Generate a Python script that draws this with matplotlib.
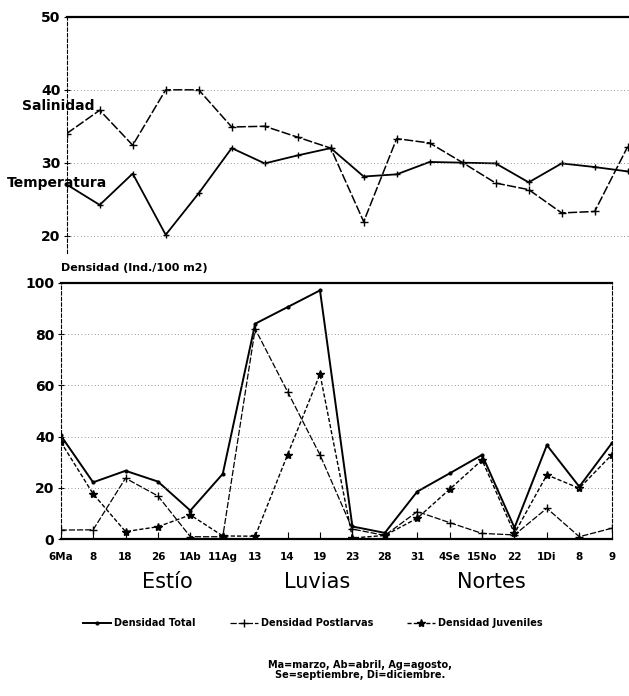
import matplotlib
matplotlib.use('Agg')
import matplotlib.pyplot as plt
from matplotlib import transforms

# fechas de muestreo (eje x)
fechas = ['6Ma', '8', '18', '26', '1Ab', '11Ag', '13', '14', '19', '23',
          '28', '31', '4Se', '15No', '22', '1Di', '8', '9']

# panel superior
salinidad = [34.0, 37.2, 32.4, 40.0, 40.0, 34.9, 35.0, 33.5, 32.0, 21.9,
             33.3, 32.7, 30.0, 27.2, 26.3, 23.1, 23.3, 32.2]
temperatura = [27.0, 24.2, 28.5, 20.1, 25.8, 32.0, 29.9, 31.0, 32.0, 28.1,
               28.4, 30.1, 30.0, 29.9, 27.3, 29.9, 29.4, 28.8]

# panel inferior, densidad (ind./100 m2)
dens_total = [40.5, 22.2, 26.7, 22.5, 11.2, 25.5, 84.0, 90.5, 97.0, 5.0,
              2.5, 18.6, 25.7, 32.9, 4.5, 36.7, 20.5, 37.4]
dens_postlarvas = [3.6, 3.7, 23.8, 16.9, 1.0, 1.0, 82.0, 57.5, 32.9, 4.0,
                   1.5, 10.8, 6.5, 2.3, 1.7, 12.1, 1.0, 4.3]
dens_juveniles = [38.0, 17.7, 3.0, 4.9, 9.5, 1.3, 1.2, 33.0, 64.4, 0.5,
                  1.5, 8.2, 19.5, 30.9, 2.3, 25.1, 19.9, 32.9]

temporadas = ['Estío', 'Luvias', 'Nortes']
temporadas_x = [3.3, 7.9, 13.3]

W, H = 629, 696
fig = plt.figure(figsize=(W / 100, H / 100), dpi=100)


def px_axes(left, top, right, bottom):
    return fig.add_axes([left / W, 1 - bottom / H,
                         (right - left) / W, (bottom - top) / H])


bold = dict(family='DejaVu Sans', weight='bold')
grid_kw = dict(color='0.45', lw=0.6, ls=(0, (1, 3)))
x = list(range(len(fechas)))

# ---- panel superior: salinidad y temperatura
ax1 = px_axes(66.7, 17, 629, 253)
ax1.set_xlim(0, 17.04)
ax1.set_ylim(17.6, 50)
ax1.plot(x, salinidad, color='black', lw=1.1, ls=(0, (6, 1.5)),
         marker='+', ms=6, mew=1)
ax1.plot(x, temperatura, color='black', lw=1.3,
         marker='+', ms=5, mew=1)
ax1.set_yticks([20, 30, 40, 50])
for v in [20, 30, 40]:
    ax1.axhline(v, **grid_kw)
ax1.set_xticks([])
ax1.tick_params(axis='y', direction='inout', length=5, pad=2)
for lab in ax1.get_yticklabels():
    lab.set_fontsize(10)
    lab.set_fontweight('bold')
ax1.spines['right'].set_visible(False)
ax1.spines['bottom'].set_visible(False)
ax1.spines['top'].set_linewidth(1.6)
ax1.spines['left'].set_linestyle((0, (3, 2)))
ax1.spines['left'].set_linewidth(0.8)

fig.text(21.7 / W, 1 - 106 / H, 'Salinidad', ha='left', va='center',
         fontsize=10, **bold)
fig.text(6.7 / W, 1 - 182.7 / H, 'Temperatura', ha='left', va='center',
         fontsize=10, **bold)

# ---- panel inferior: densidades
ax2 = px_axes(60.7, 282.7, 611.7, 539.3)
ax2.set_xlim(0, 17)
ax2.set_ylim(0, 100)
l_tot, = ax2.plot(x, dens_total, color='black', lw=1.4,
                  marker='.', ms=4)
l_post, = ax2.plot(x, dens_postlarvas, color='black', lw=0.9,
                   ls=(0, (5, 1.5)), marker='+', ms=6, mew=1)
l_juv, = ax2.plot(x, dens_juveniles, color='black', lw=1.0,
                  ls=(0, (3, 1.5)), marker='*', ms=6)
for v in [20, 40, 60, 80]:
    ax2.axhline(v, **grid_kw)
ax2.set_yticks([0, 20, 40, 60, 80, 100])
ax2.set_xticks(x)
ax2.set_xticklabels(fechas)
ax2.tick_params(axis='y', direction='inout', length=5, pad=2)
ax2.tick_params(axis='x', direction='in', length=5, pad=9)
for lab in ax2.get_yticklabels():
    lab.set_fontsize(10)
    lab.set_fontweight('bold')
for lab in ax2.get_xticklabels():
    lab.set_fontsize(7.5)
    lab.set_fontweight('bold')
for s in ['top', 'bottom']:
    ax2.spines[s].set_linewidth(1.6)
for s in ['left', 'right']:
    ax2.spines[s].set_linestyle((0, (3, 2)))
    ax2.spines[s].set_linewidth(0.8)

fig.text(60.7 / W, 1 - 268.3 / H, 'Densidad (Ind./100 m2)', ha='left',
         va='center', fontsize=8, **bold)

tr = transforms.blended_transform_factory(ax2.transData, fig.transFigure)
for name, xpos in zip(temporadas, temporadas_x):
    ax2.text(xpos, 1 - 582 / H, name, transform=tr, ha='center',
             va='center', fontsize=15, family='DejaVu Sans')

fig.legend([l_tot, l_post, l_juv],
           ['Densidad Total', 'Densidad Postlarvas', 'Densidad Juveniles'],
           loc='center', bbox_to_anchor=(313 / W, 1 - 623 / H), ncol=3,
           frameon=False, prop=dict(size=7, **bold), handlelength=2.9,
           handletextpad=0.3, columnspacing=3.5)

fig.text(360 / W, 1 - 670 / H,
         'Ma=marzo, Ab=abril, Ag=agosto,\nSe=septiembre, Di=diciembre.',
         ha='center', va='center', fontsize=7, linespacing=1.1, **bold)

fig.savefig('out.png', dpi=100)
